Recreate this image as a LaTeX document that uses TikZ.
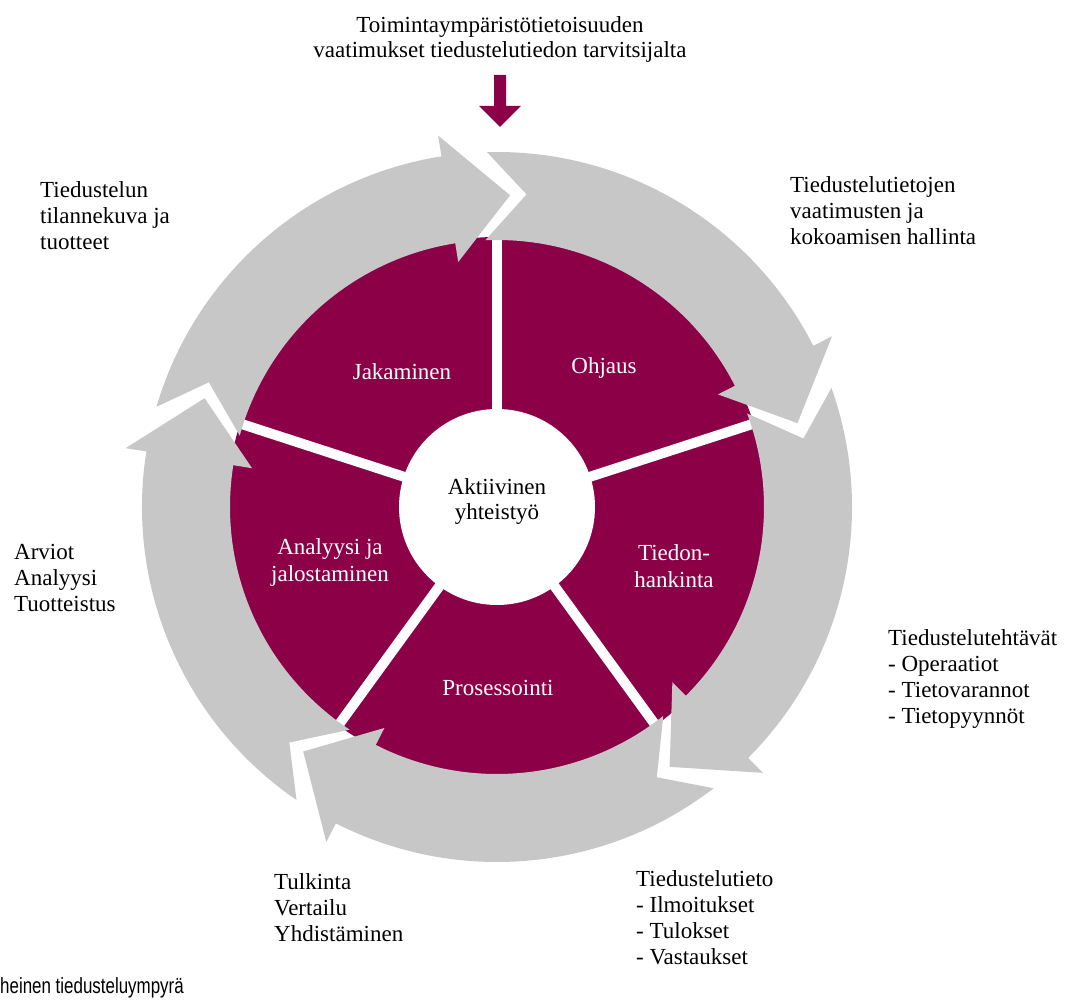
\documentclass[tikz,border=0pt]{standalone}
\usepackage{graphicx}
\usepackage{fontspec}
\setmainfont{Liberation Serif}
\newfontfamily\capfont{Liberation Sans}
\definecolor{cyclepurple}{RGB}{140,0,72}
\definecolor{ringgray}{RGB}{199,199,199}
\begin{document}
\begin{tikzpicture}[x=1pt,y=1pt,
  lbl/.style={font=\fontsize{23}{26}\selectfont, inner sep=0pt, align=left, anchor=north west},
  toplbl/.style={font=\fontsize{23}{25.5}\selectfont, inner sep=0pt, align=center, anchor=north},
  seglbl/.style={font=\fontsize{23}{27}\selectfont, text=white, inner sep=0pt, align=center},
  midlbl/.style={font=\fontsize{23}{25}\selectfont, text=black, inner sep=0pt, align=center},
  caplbl/.style={inner sep=0pt, anchor=base west}
]
\useasboundingbox (0,0) rectangle (1071,999);
\fill[white] (0,0) rectangle (1071,999);

\begin{scope}[shift={(497,492)}]
  \fill[cyclepurple] (0,0) circle[radius=270];
  \foreach \a in {90,18,-54,-126,162}
    \draw[white, line width=10] (0,0) -- (\a:272);
  \foreach \s in {90,18,-54,-126,162}
    \fill[ringgray] (\s+1.6:355) arc[start angle=\s+1.6, end angle=\s-63, radius=355]
      -- (\s-63:376) -- (\s-74.4:312) -- (\s-63:248) -- (\s-63:267)
      arc[start angle=\s-63, end angle=\s+2.5, radius=267]
      -- (\s-5.4:314) -- cycle;
  \fill[white] (0,0) circle[radius=98];
\end{scope}

% input arrow
\fill[cyclepurple] (494,924) -- (506,924) -- (506,893) -- (521,893) -- (500,872)
  -- (479,893) -- (494,893) -- cycle;

\node[toplbl] (need) at (500,983) {Toimintaympäristötietoisuuden\\vaatimukset tiedustelutiedon tarvitsijalta};
\node[lbl] (tilanne) at (40,818) {Tiedustelun\\tilannekuva ja\\tuotteet};
\node[lbl] (hallinta) at (790,823) {Tiedustelutietojen\\vaatimusten ja\\kokoamisen hallinta};
\node[lbl] (arviot) at (14,455) {Arviot\\Analyysi\\Tuotteistus};
\node[lbl] (tehtavat) at (888,370) {Tiedustelutehtävät\\- Operaatiot\\- Tietovarannot\\- Tietopyynnöt};
\node[lbl] (tulkinta) at (274,126) {Tulkinta\\Vertailu\\Yhdistäminen};
\node[lbl] (tieto) at (636,129) {Tiedustelutieto\\- Ilmoitukset\\- Tulokset\\- Vastaukset};

\node[seglbl] (jakaminen) at (402,627) {Jakaminen};
\node[seglbl] (ohjaus) at (604,631) {Ohjaus};
\node[seglbl] (hankinta) at (674,433) {Tiedon-\\hankinta};
\node[seglbl] (analyysi) at (330,437) {Analyysi ja\\jalostaminen};
\node[seglbl] (prosessointi) at (498,311) {Prosessointi};
\node[midlbl] (aktiivinen) at (497,497) {Aktiivinen\\yhteistyö};

\node[caplbl] (caption) at (0,6) {\capfont\fontsize{22}{22}\selectfont\scalebox{0.77}[1]{heinen tiedusteluympyrä}};
\end{tikzpicture}
\end{document}
